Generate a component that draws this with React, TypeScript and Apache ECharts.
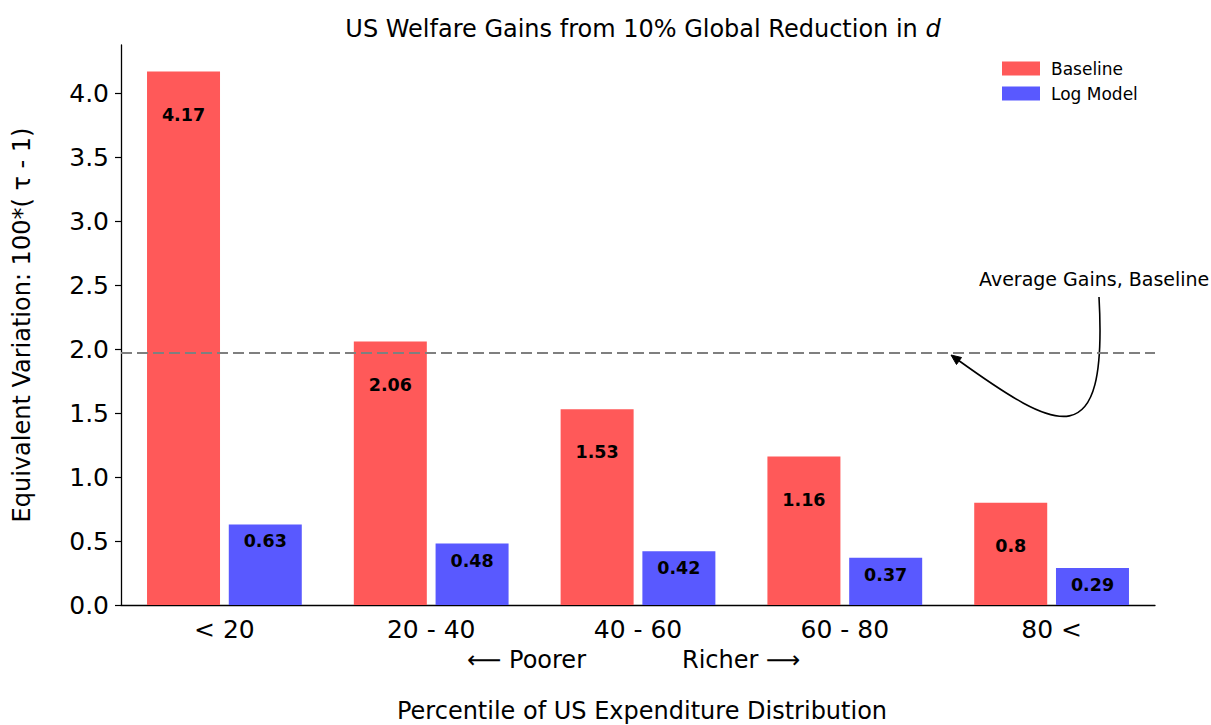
import React, { useEffect, useRef } from "react";
import * as echarts from "echarts";

const categories = ["< 20", "20 - 40", "40 - 60", "60 - 80", "80 <"];
const baselineValues = [4.17, 2.06, 1.53, 1.16, 0.8];
const logModelValues = [0.63, 0.48, 0.42, 0.37, 0.29];
const averageBaseline = 1.97;
const yTicks = [0, 0.5, 1, 1.5, 2, 2.5, 3, 3.5, 4];

const FONT = "DejaVu Sans";

export default function App() {
  const ref = useRef<HTMLDivElement>(null);
  useEffect(() => {
    if (!ref.current) return;
    const chart = echarts.init(ref.current, null, { renderer: "svg" });
    const option: any = {
      animation: false,
      backgroundColor: "#ffffff",
      textStyle: { fontFamily: FONT },
      title: {
        text: "US Welfare Gains from 10% Global Reduction in {i|d}",
        left: 638,
        textAlign: "center",
        top: 12,
        textStyle: {
          fontFamily: FONT,
          fontSize: 24,
          fontWeight: "normal",
          color: "#000",
          rich: { i: { fontFamily: FONT, fontSize: 24, fontStyle: "italic", color: "#000" } },
        },
      },
      legend: {
        orient: "vertical",
        left: 997,
        top: 55,
        itemWidth: 38,
        itemHeight: 14,
        itemGap: 8,
        icon: "rect",
        textStyle: { fontFamily: FONT, fontSize: 17, color: "#000", padding: [0, 0, 0, 6] },
        data: ["Baseline", "Log Model"],
      },
      grid: { left: 121, right: 56, top: 45, bottom: 120, containLabel: false },
      xAxis: {
        type: "category",
        data: categories,
        axisLine: { lineStyle: { color: "#000", width: 1.3 } },
        axisTick: { alignWithLabel: true, length: 6, lineStyle: { color: "#000", width: 1.2 } },
        axisLabel: { fontFamily: FONT, fontSize: 25, color: "#000", margin: 12 },
      },
      yAxis: {
        type: "value",
        min: 0,
        max: 4.378,
        interval: 0.5,
        splitLine: { show: false },
        axisLine: { show: true, lineStyle: { color: "#000", width: 1.3 } },
        axisTick: { show: true, length: 6, customValues: yTicks, lineStyle: { color: "#000", width: 1.2 } },
        axisLabel: {
          fontFamily: FONT,
          fontSize: 25,
          color: "#000",
          margin: 12,
          customValues: yTicks,
          formatter: (v: number) => v.toFixed(1),
        },
        name: "Equivalent Variation: 100*( τ - 1)",
        nameLocation: "middle",
        nameGap: 87,
        nameTextStyle: { fontFamily: FONT, fontSize: 24, color: "#000" },
      },
      series: [
        {
          name: "Baseline",
          type: "bar",
          data: baselineValues,
          barWidth: 73,
          barGap: "12%",
          itemStyle: { color: "#ff5959" },
          label: {
            show: true,
            position: "insideTop",
            distance: 34,
            fontFamily: FONT,
            fontWeight: "bold",
            fontSize: 17.5,
            color: "#000",
          },
          markLine: {
            symbol: "none",
            silent: true,
            label: { show: false },
            lineStyle: { color: "#7f7f7f", type: [11, 5], width: 2.2 },
            data: [{ yAxis: averageBaseline }],
          },
        },
        {
          name: "Log Model",
          type: "bar",
          data: logModelValues,
          barWidth: 73,
          itemStyle: { color: "#5959ff" },
          label: {
            show: true,
            position: "insideTop",
            distance: 8,
            fontFamily: FONT,
            fontWeight: "bold",
            fontSize: 17.5,
            color: "#000",
          },
        },
      ],
      graphic: [
        {
          type: "text",
          x: 979,
          y: 279,
          style: {
            text: "Average Gains, Baseline",
            font: `19px '${FONT}'`,
            fill: "#000",
            align: "left",
            verticalAlign: "middle",
          },
        },
        {
          type: "bezierCurve",
          shape: { x1: 1099, y1: 297, cpx1: 1108, cpy1: 458, cpx2: 1058, cpy2: 432, x2: 958, y2: 360 },
          style: { stroke: "#000", lineWidth: 1.6, fill: "none" },
        },
        {
          type: "polygon",
          shape: { points: [[951, 355], [961.5, 357.5], [956.5, 364.5]] },
          style: { fill: "#000", stroke: "#000", lineWidth: 1 },
        },
        {
          type: "text",
          x: 467,
          y: 660,
          style: { text: "⟵ Poorer", font: `24px '${FONT}'`, fill: "#000", align: "left", verticalAlign: "middle" },
        },
        {
          type: "text",
          x: 682,
          y: 660,
          style: { text: "Richer ⟶", font: `24px '${FONT}'`, fill: "#000", align: "left", verticalAlign: "middle" },
        },
        {
          type: "text",
          x: 642,
          y: 711,
          style: {
            text: "Percentile of US Expenditure Distribution",
            font: `24px '${FONT}'`,
            fill: "#000",
            align: "center",
            verticalAlign: "middle",
          },
        },
      ],
    };
    chart.setOption(option);
    return () => chart.dispose();
  }, []);
  return <div ref={ref} style={{ width: 1211, height: 725, position: "absolute", left: 0, top: 0 }} />;
}
